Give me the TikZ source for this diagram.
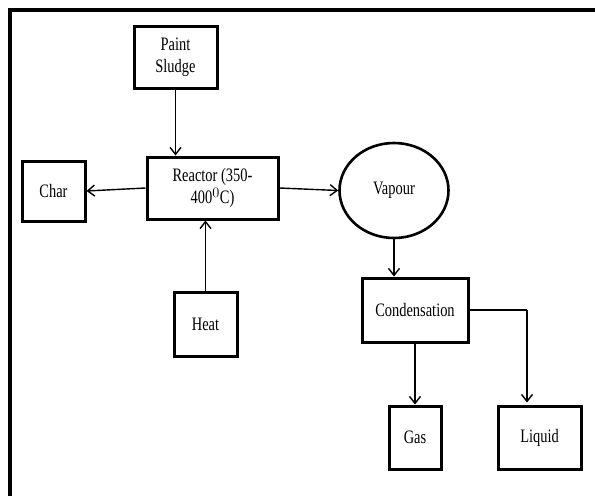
\documentclass[tikz,border=0pt]{standalone}
\usepackage{fontspec}
\setmainfont{Liberation Serif}[FakeStretch=0.76]
\usepackage{tikz}
\usetikzlibrary{calc,arrows.meta,shapes.geometric}

\tikzset{
  blockbox/.style={draw, line width=3pt, inner sep=0pt, align=center,
    font=\fontsize{19}{22}\selectfont},
  flowline/.style={line width=1.4pt, -{Straight Barb[length=7pt,width=11pt]}}
}

\begin{document}
\begin{tikzpicture}[x=1pt, y=-1pt]
      % fix the page size
      \useasboundingbox (0,0) rectangle (595,496);

      % cut-off frame along top and left edge
      \draw[line width=4.5pt] (10,496) -- (10,10) -- (595,10);

      % input boxes
      \node[blockbox, minimum width=83pt, minimum height=62pt] (sludge) at (175.5,57) {Paint\\Sludge};
      \node[blockbox, minimum width=131pt, minimum height=62pt] (reactor) at (212.5,188) {Reactor (350-\\400$^{0}$C)};
      \node[blockbox, minimum width=63pt, minimum height=60pt] (char) at (53.5,191) {Char};
      \node[blockbox, minimum width=63pt, minimum height=64pt] (heat) at (205.5,324) {Heat};

      % vapour and condensation
      \node[blockbox, ellipse, line width=2.6pt, minimum width=109pt, minimum height=95pt] (vapour) at (394,190.5) {Vapour};
      \node[blockbox, minimum width=106pt, minimum height=64pt] (cond) at (415,310) {Condensation};

      % products
      \node[blockbox, minimum width=52pt, minimum height=63pt] (gas) at (415,437.5) {Gas};
      \node[blockbox, minimum width=83pt, minimum height=63pt] (liquid) at (539.5,437.5) {Liquid};

      % corner of the line to the liquid
      \coordinate (bend) at (527,310);

      % Add arrows between the boxes
      \draw[flowline] (sludge.south) -- (sludge.south |- reactor.north);
      \draw[flowline] (reactor.west) -- (char.east);
      \draw[flowline] (reactor.east) -- (vapour.west);
      \draw[flowline] (heat.north) -- (heat.north |- reactor.south);
      \draw[flowline] (vapour.south) -- (vapour.south |- cond.north);
      \draw[flowline] (cond.south) -- (gas.north);
      \draw[line width=1.4pt] (cond.east) -- (bend);
      \draw[flowline] (bend) -- ($(bend |- liquid.north)+(0,-2)$);
    \end{tikzpicture}
\end{document}
